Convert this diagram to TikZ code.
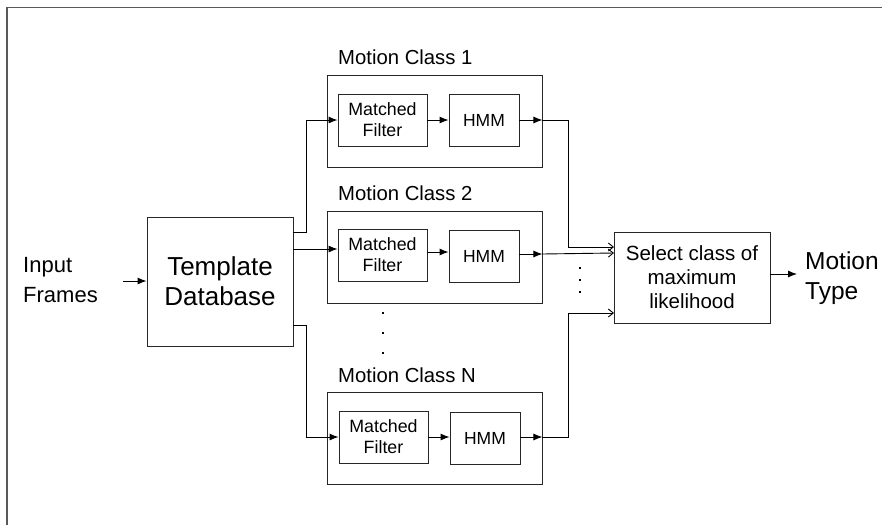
\documentclass[tikz,border=0pt]{standalone}
\usepackage{fontspec}
\setmainfont{Liberation Sans}
\usetikzlibrary{arrows.meta}
\begin{document}
\begin{tikzpicture}[x=1pt,y=-1pt,
  box/.style={draw=black!85,line width=0.9pt,inner sep=0pt,align=center},
  outer/.style={box,minimum width=215pt,minimum height=92pt},
  mfbox/.style={box,minimum width=89pt,minimum height=52pt,font=\fontsize{17.8}{21}\selectfont},
  hmmbox/.style={box,minimum width=70pt,minimum height=52pt,font=\fontsize{17.5}{21}\selectfont},
  classlabel/.style={anchor=west,inner sep=0pt,font=\fontsize{20.3}{22}\selectfont},
  bigtext/.style={inner sep=0pt,align=left,font=\fontsize{#1}{30}\selectfont},
  wire/.style={draw=black,line width=0.9pt},
  arr/.style={wire,-{Latex[length=9pt,width=7pt]}},
  oarr/.style={wire,-{Straight Barb[length=5pt,width=8pt]}},
  dot/.style={fill=black,inner sep=0pt,minimum size=2.6pt,draw=none}
]
\useasboundingbox (0,0) rectangle (882,525);
\draw[draw=black!65,line width=1.4pt] (7,525) -- (7,7.5) -- (882,7.5);

% Template database and input
\node[box,minimum width=146pt,minimum height=129pt,font=\fontsize{26}{30}\selectfont] (td) at (220,281.5) {Template\\Database};
\node[bigtext=22,anchor=west] (in) at (23,280) {Input\\Frames};
\coordinate (inend) at (123,281);
\draw[arr] (inend) -- (td.west |- inend);

% Motion class boxes
\node[outer] (c1) at (434.5,121) {};
\node[outer] (c2) at (434.5,257) {};
\node[outer] (cn) at (434.5,438) {};
\node[classlabel] (l1) at (338,57) {Motion Class 1};
\node[classlabel] (l2) at (338,193) {Motion Class 2};
\node[classlabel] (ln) at (338,375) {Motion Class N};

\node[mfbox] (mf1) at (382.5,120) {Matched\\Filter};
\node[hmmbox] (hmm1) at (484,120.5) {HMM};
\node[mfbox] (mf2) at (382.5,255) {Matched\\Filter};
\node[hmmbox] (hmm2) at (484,256.5) {HMM};
\node[mfbox] (mfn) at (383.5,437) {Matched\\Filter};
\node[hmmbox] (hmmn) at (485,438) {HMM};

% vertical dots between classes
\node[dot] (d1) at (383,313) {};
\node[dot] (d2) at (383,333) {};
\node[dot] (d3) at (383,353) {};

% Select box and output
\node[box,minimum width=156pt,minimum height=91pt,font=\fontsize{20.5}{24}\selectfont] (sel) at (692,277.5) {Select class of\\maximum\\likelihood};
\node[bigtext=24.5,anchor=west] (out) at (805,278) {Motion\\Type};
\coordinate (outend) at (797,274);
\draw[arr] (sel.east |- outend) -- (outend);

\node[dot,minimum size=2.4pt] (e1) at (580,268) {};
\node[dot,minimum size=2.4pt] (e2) at (580,280) {};
\node[dot,minimum size=2.4pt] (e3) at (580,292) {};

% Template to classes
\coordinate (t1) at (293,232);
\coordinate (t2) at (293,249);
\coordinate (tn) at (293,325);
\draw[arr] (t1) -- ++(13,0) |- (mf1.west);
\draw[arr] (t2) -- (mf2.west |- t2);
\draw[arr] (tn) -- ++(13,0) |- (mfn.west);

% inner arrows
\draw[arr] (mf1.east) -- (hmm1.west |- mf1.east);
\draw[arr] (mf2.east |- 0,252) -- (hmm2.west |- 0,252);
\draw[arr] (mfn.east) -- (hmmn.west |- mfn.east);

\draw[arr] (hmm1.east |- mf1) -- (c1.east |- mf1);
\draw[arr] (hmm2.east |- 0,254) -- (c2.east |- 0,254);
\draw[arr] (hmmn.east |- mfn) -- (cn.east |- mfn);

% to select box
\coordinate (s1) at (614,247);
\coordinate (s2) at (614,253);
\coordinate (sn) at (614,313);
\draw[oarr] (c1.east |- mf1) -- (568,120) |- (s1);
\draw[oarr] (c2.east |- 0,254) -- (s2);
\draw[oarr] (cn.east |- mfn) -- (568,437) |- (sn);
\end{tikzpicture}
\end{document}
